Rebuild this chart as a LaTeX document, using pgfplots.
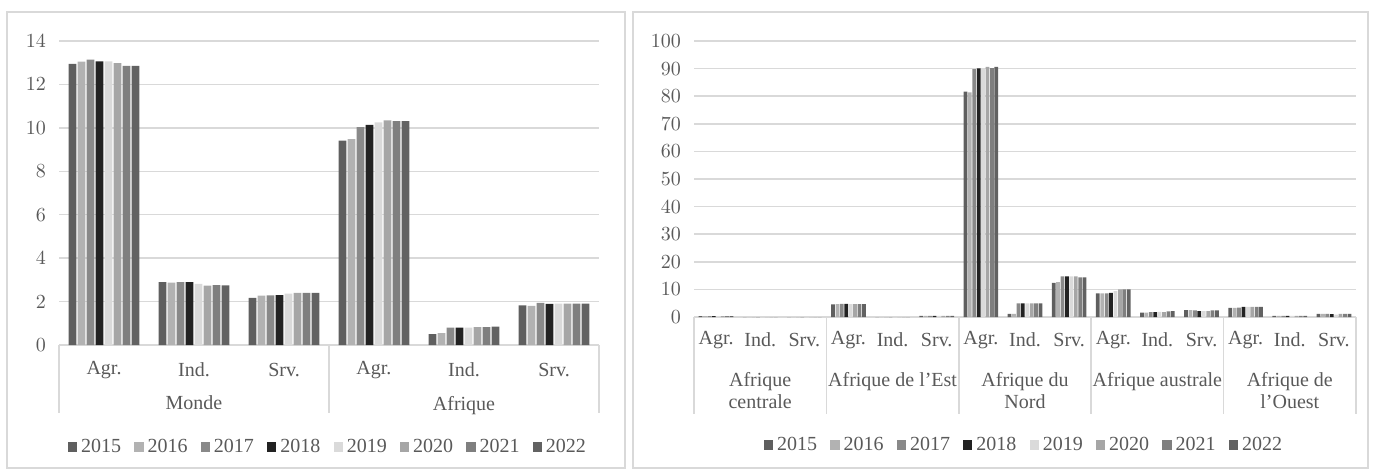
\documentclass[border=0pt]{standalone}
\usepackage{pgfplots}
\usepackage{pgfplotstable}
\usepackage{fontspec}
\setmainfont{Liberation Serif}
\pgfplotsset{compat=1.18}
\definecolor{c15}{HTML}{5F5F5F}
\definecolor{c16}{HTML}{B2B2B2}
\definecolor{c17}{HTML}{898989}
\definecolor{c18}{HTML}{222222}
\definecolor{c19}{HTML}{DADADA}
\definecolor{c20}{HTML}{A6A6A6}
\definecolor{c21}{HTML}{7F7F7F}
\definecolor{c22}{HTML}{626262}
\definecolor{gridgray}{HTML}{D9D9D9}
\definecolor{txtgray}{HTML}{595959}

\pgfplotstableread{
x a15 a16 a17 a18 a19 a20 a21 a22
0 12.95 13.05 13.14 13.06 13.06 12.98 12.86 12.86
1 2.90 2.87 2.90 2.90 2.82 2.73 2.76 2.75
2 2.17 2.27 2.29 2.30 2.37 2.40 2.40 2.40
3 9.41 9.48 10.03 10.14 10.25 10.34 10.31 10.31
4 0.50 0.55 0.80 0.80 0.80 0.82 0.82 0.85
5 1.82 1.80 1.94 1.89 1.91 1.91 1.91 1.91
}\lefttab

\pgfplotstableread{
x a15 a16 a17 a18 a19 a20 a21 a22
0 0.3 0.3 0.3 0.3 0.3 0.3 0.3 0.3
1 0 0 0 0 0 0 0 0
2 0 0 0 0 0 0 0 0
3 4.6 4.7 4.8 4.8 4.7 4.7 4.7 4.7
4 0 0 0 0 0 0 0 0
5 0.4 0.4 0.4 0.4 0.4 0.4 0.4 0.4
6 81.7 81.4 89.8 90.1 90.0 90.6 90.2 90.6
7 1.1 1.1 4.9 4.9 4.9 4.9 4.9 4.9
8 12.4 12.6 14.7 14.7 14.7 14.7 14.4 14.4
9 8.6 8.6 8.6 8.7 9.4 10.0 10.0 10.0
10 1.6 1.6 1.8 1.8 1.9 1.8 2.0 2.1
11 2.5 2.5 2.4 2.1 2.1 2.1 2.4 2.4
12 3.3 3.3 3.4 3.7 3.7 3.7 3.7 3.7
13 0.4 0.4 0.4 0.4 0.4 0.4 0.4 0.4
14 1.1 1.1 1.1 1.0 0.9 1.1 1.1 1.1
}\righttab

\newcommand{\lf}{\fontsize{10}{11}\selectfont}
\tikzset{grp/.style={font=\lf, text=txtgray, align=center, anchor=north},
         sep/.style={draw=gridgray, line width=0.75pt}}

\pgfplotsset{
  common/.style={
    scale only axis,
    anchor=south west,
    ybar,
    bar width=0.085,
    clip=false,
    axis x line*=bottom,
    axis y line*=left,
    x axis line style={draw=gridgray, line width=0.75pt},
    y axis line style={draw=none},
    major tick length=0pt,
    ymajorgrids,
    grid style={draw=gridgray, line width=0.75pt},
    ymin=0,
    xtick=data,
    tick label style={font=\lf, text=txtgray},
    yticklabel style={xshift=-3pt},
    legend columns=8,
    legend style={draw=none, fill=none, font=\lf, text=txtgray,
      /tikz/every even column/.append style={column sep=4.6pt}, inner sep=0pt},
    legend image code/.code={\fill[##1] (0pt,-2.3pt) rectangle (4.6pt,2.3pt);},
    legend cell align=left,
  },
  s1/.style={fill=c15, draw=none, bar shift=-0.35},
  s2/.style={fill=c16, draw=none, bar shift=-0.25},
  s3/.style={fill=c17, draw=none, bar shift=-0.15},
  s4/.style={fill=c18, draw=none, bar shift=-0.05},
  s5/.style={fill=c19, draw=none, bar shift=0.05},
  s6/.style={fill=c20, draw=none, bar shift=0.15},
  s7/.style={fill=c21, draw=none, bar shift=0.25},
  s8/.style={fill=c22, draw=none, bar shift=0.35},
}

\begin{document}
\begin{tikzpicture}
\useasboundingbox (0,0) rectangle (686.5pt,236pt);
\draw[gridgray, line width=0.75pt] (3.5pt,2pt) rectangle (312.5pt,230pt);
\draw[gridgray, line width=0.75pt] (316.5pt,2pt) rectangle (684pt,230pt);

\begin{axis}[common,
  at={(29.5pt,63.5pt)}, width=270pt, height=152pt,
  ymax=14, ytick={0,2,...,14},
  xmin=-0.5, xmax=5.5,
  xticklabels={Agr.,Ind.,Srv.,Agr.,Ind.,Srv.},
  xticklabel style={anchor=center, yshift=-12.5pt},
  legend style={at={(0.5,-0.3355)}, anchor=center},
]
\addplot[s1] table[x=x,y=a15]{\lefttab};
\addplot[s2] table[x=x,y=a16]{\lefttab};
\addplot[s3] table[x=x,y=a17]{\lefttab};
\addplot[s4] table[x=x,y=a18]{\lefttab};
\addplot[s5] table[x=x,y=a19]{\lefttab};
\addplot[s6] table[x=x,y=a20]{\lefttab};
\addplot[s7] table[x=x,y=a21]{\lefttab};
\addplot[s8] table[x=x,y=a22]{\lefttab};
\legend{2015,2016,2017,2018,2019,2020,2021,2022}
\draw[sep] (axis cs:-0.5,0) -- ([yshift=-34pt]axis cs:-0.5,0);
\draw[sep] (axis cs:2.5,0) -- ([yshift=-34pt]axis cs:2.5,0);
\draw[sep] (axis cs:5.5,0) -- ([yshift=-34pt]axis cs:5.5,0);
\node[grp] at (axis cs:1,0) [yshift=-22pt] {Monde};
\node[grp] at (axis cs:4,0) [yshift=-22pt] {Afrique};
\end{axis}

\begin{axis}[common,
  at={(347pt,77.5pt)}, width=331pt, height=138pt,
  ymax=100, ytick={0,10,...,100},
  xmin=-0.5, xmax=14.5,
  xticklabels={Agr.,Ind.,Srv.,Agr.,Ind.,Srv.,Agr.,Ind.,Srv.,Agr.,Ind.,Srv.,Agr.,Ind.,Srv.},
  xticklabel style={anchor=center, yshift=-11.5pt},
  legend style={at={(0.5,-0.4638)}, anchor=center},
]
\addplot[s1] table[x=x,y=a15]{\righttab};
\addplot[s2] table[x=x,y=a16]{\righttab};
\addplot[s3] table[x=x,y=a17]{\righttab};
\addplot[s4] table[x=x,y=a18]{\righttab};
\addplot[s5] table[x=x,y=a19]{\righttab};
\addplot[s6] table[x=x,y=a20]{\righttab};
\addplot[s7] table[x=x,y=a21]{\righttab};
\addplot[s8] table[x=x,y=a22]{\righttab};
\legend{2015,2016,2017,2018,2019,2020,2021,2022}
\draw[sep] (axis cs:-0.5,0) -- ([yshift=-48.5pt]axis cs:-0.5,0);
\draw[sep] (axis cs:2.5,0) -- ([yshift=-48.5pt]axis cs:2.5,0);
\draw[sep] (axis cs:5.5,0) -- ([yshift=-48.5pt]axis cs:5.5,0);
\draw[sep] (axis cs:8.5,0) -- ([yshift=-48.5pt]axis cs:8.5,0);
\draw[sep] (axis cs:11.5,0) -- ([yshift=-48.5pt]axis cs:11.5,0);
\draw[sep] (axis cs:14.5,0) -- ([yshift=-48.5pt]axis cs:14.5,0);
\node[grp] at (axis cs:1,0) [yshift=-24pt] {Afrique\\centrale};
\node[grp] at (axis cs:4,0) [yshift=-24pt] {Afrique de l’Est};
\node[grp] at (axis cs:7,0) [yshift=-24pt] {Afrique du\\Nord};
\node[grp] at (axis cs:10,0) [yshift=-24pt] {Afrique australe};
\node[grp] at (axis cs:13,0) [yshift=-24pt] {Afrique de\\l’Ouest};
\end{axis}
\end{tikzpicture}
\end{document}
